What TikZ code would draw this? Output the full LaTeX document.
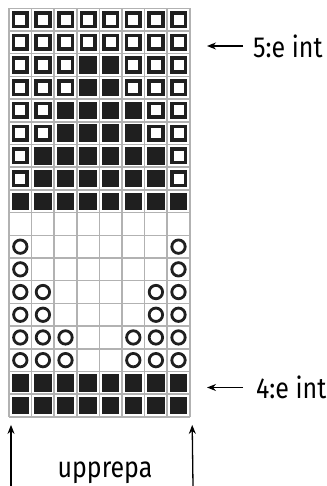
\documentclass[tikz,border=0pt]{standalone}
\usepackage{fontspec}
\newfontfamily\lblfont[FakeStretch=0.86]{Fira Sans}
\usetikzlibrary{arrows.meta, positioning}

\begin{document}
\begin{tikzpicture}[
    x=1pt, y=-1pt,
    gridln/.style={draw=gray!60, line width=1.5pt},
    cell/.style={inner sep=0pt, outer sep=0pt},
    sq/.style={cell, draw=black!88, line width=3.6pt, minimum size=13.6pt},
    blk/.style={cell, fill=black!88, minimum size=17.4pt},
    ring/.style={cell, circle, draw=black!88, line width=2.8pt, minimum size=13.4pt},
    emp/.style={cell, minimum size=16pt},
    lbl/.style={font=\lblfont\fontsize{29}{33}\selectfont, inner sep=0pt},
    arr/.style={-{Stealth[length=9pt, width=7pt]}, line width=1.3pt},
  ]
  \useasboundingbox (0,0) rectangle (326,486);

  % chart: 8 stitches x 18 rows
  \begin{scope}[shift={(9,8.3)}, x=22.6pt, y=-22.7pt]
    \foreach \i in {0,...,8}
      \draw[gridln] (\i,0) -- (\i,18);
    \foreach \j in {0,...,18}
      \draw[gridln] (0,\j) -- (8,\j);
    \foreach \r/\pat in {
        1/{sq,sq,sq,sq,sq,sq,sq,sq},
        2/{sq,sq,sq,sq,sq,sq,sq,sq},
        3/{sq,sq,sq,blk,blk,sq,sq,sq},
        4/{sq,sq,sq,blk,blk,sq,sq,sq},
        5/{sq,sq,blk,blk,blk,blk,sq,sq},
        6/{sq,sq,blk,blk,blk,blk,sq,sq},
        7/{sq,blk,blk,blk,blk,blk,blk,sq},
        8/{sq,blk,blk,blk,blk,blk,blk,sq},
        9/{blk,blk,blk,blk,blk,blk,blk,blk},
        10/{emp,emp,emp,emp,emp,emp,emp,emp},
        11/{ring,emp,emp,emp,emp,emp,emp,ring},
        12/{ring,emp,emp,emp,emp,emp,emp,ring},
        13/{ring,ring,emp,emp,emp,emp,ring,ring},
        14/{ring,ring,emp,emp,emp,emp,ring,ring},
        15/{ring,ring,ring,emp,emp,ring,ring,ring},
        16/{ring,ring,ring,emp,emp,ring,ring,ring},
        17/{blk,blk,blk,blk,blk,blk,blk,blk},
        18/{blk,blk,blk,blk,blk,blk,blk,blk}}
      \foreach \k [count=\c] in \pat
        \node[\k] (c\r-\c) at (\c-0.5,\r-0.5) {};
    \coordinate (gsw) at (0,18);
    \coordinate (gse) at (8,18);
  \end{scope}

  % row markers
  \node[lbl, anchor=west] (lbl5) at (253,46) {5:e int};
  \coordinate[left=46pt of lbl5] (tip5);
  \draw[arr, shorten <=10pt] (lbl5) -- (tip5);

  \node[lbl, anchor=west] (lbl4) at (256,387.5) {4:e int};
  \coordinate[left=49pt of lbl4] (tip4);
  \draw[arr, shorten <=13pt] (lbl4) -- (tip4);

  % repeat
  \node[lbl, anchor=base] (rep) at (105,477) {upprepa};
  \coordinate (l1) at (11,486);
  \coordinate[below=8pt of gsw, xshift=2pt] (l2);
  \coordinate (r1) at (193,486);
  \coordinate[below=8pt of gse, xshift=2.4pt] (r2);
  \draw[arr] (l1) -- (l2);
  \draw[arr] (r1) -- (r2);
\end{tikzpicture}
\end{document}
